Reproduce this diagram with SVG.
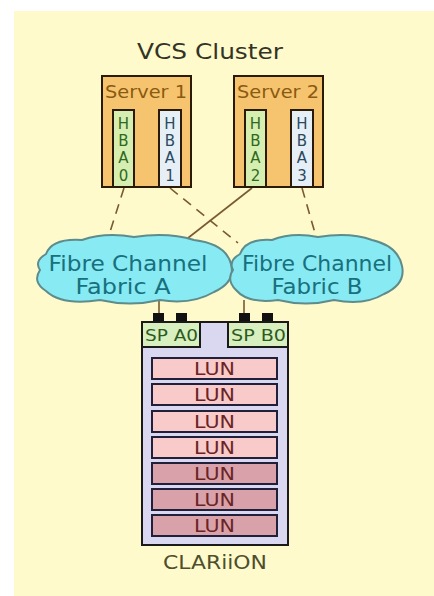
<svg xmlns="http://www.w3.org/2000/svg" width="434" height="596" viewBox="0 0 434 596">
<style>
.srv{fill:#F6C46E;stroke:#2a1a08;stroke-width:2}
.srvt{font-family:"DejaVu Sans",sans-serif;font-size:17px;fill:#8A5A12;text-anchor:middle}
.hbag{fill:#D6EFB0;stroke:#2a1a08;stroke-width:2}
.hbab{fill:#E6EEF6;stroke:#2a1a08;stroke-width:2}
.hbt{font-family:"DejaVu Sans",sans-serif;font-size:15px;text-anchor:middle}
.cloud{fill:#88EAF2;stroke:#5E8C8C;stroke-width:2}
.ct{font-family:"DejaVu Sans",sans-serif;font-size:21px;fill:#17707E;text-anchor:middle}
.conn{fill:none;stroke:#7A5A30;stroke-width:1.6}
.dash{stroke-dasharray:10 7}
.lun1{fill:#F8CACA;stroke:#20203A;stroke-width:2}
.lun2{fill:#D9A2AA;stroke:#20203A;stroke-width:2}
.lt{font-family:"DejaVu Sans",sans-serif;font-size:18px;fill:#6A2424;text-anchor:middle}
.sp{fill:#D8F0C0;stroke:#1a1a1a;stroke-width:2}
.spt{font-family:"DejaVu Sans",sans-serif;font-size:16px;fill:#2E5A1E}
</style>
<rect x="0" y="0" width="434" height="596" fill="#FFFFFF"/>
<rect x="14" y="11" width="420" height="585" fill="#FEFACB"/>
<text x="210" y="59" font-family="DejaVu Sans,sans-serif" font-size="22" fill="#333326" text-anchor="middle" textLength="146" lengthAdjust="spacingAndGlyphs">VCS Cluster</text>

<g id="connectors">
<line class="conn dash" x1="124" y1="188" x2="108" y2="238"/>
<line class="conn dash" x1="170" y1="188" x2="238" y2="243"/>
<line class="conn" x1="252" y1="188" x2="188" y2="238"/>
<line class="conn dash" x1="302" y1="188" x2="315" y2="233"/>
<line class="conn" x1="159" y1="300" x2="159" y2="315"/>
<line class="conn" x1="244" y1="300" x2="244" y2="315"/>
</g>

<g id="server1">
<rect class="srv" x="102" y="76" width="89" height="111"/>
<text class="srvt" x="146" y="98" textLength="82" lengthAdjust="spacingAndGlyphs">Server 1</text>
</g>
<g id="hba0">
<rect class="hbag" x="113" y="110" width="21" height="77"/>
<g class="hbt" fill="#2E6A1E"><text x="123.5" y="129">H</text><text x="123.5" y="146">B</text><text x="123.5" y="163">A</text><text x="123.5" y="181">0</text></g>
</g>
<g id="hba1">
<rect class="hbab" x="159" y="110" width="22" height="77"/>
<g class="hbt" fill="#2A4A5E"><text x="170" y="129">H</text><text x="170" y="146">B</text><text x="170" y="163">A</text><text x="170" y="181">1</text></g>
</g>
<g id="server2">
<rect class="srv" x="234" y="76" width="89" height="111"/>
<text class="srvt" x="278" y="98" textLength="82" lengthAdjust="spacingAndGlyphs">Server 2</text>
</g>
<g id="hba2">
<rect class="hbag" x="245" y="110" width="21" height="77"/>
<g class="hbt" fill="#2E6A1E"><text x="255.5" y="129">H</text><text x="255.5" y="146">B</text><text x="255.5" y="163">A</text><text x="255.5" y="181">2</text></g>
</g>
<g id="hba3">
<rect class="hbab" x="291" y="110" width="22" height="77"/>
<g class="hbt" fill="#2A4A5E"><text x="302" y="129">H</text><text x="302" y="146">B</text><text x="302" y="163">A</text><text x="302" y="181">3</text></g>
</g>

<g id="fabricA">
<path class="cloud" d="M46,254 Q52,238 82,240 Q105,232 134,237 Q168,232 194,240 Q226,244 231,264 Q236,282 214,292 Q192,305 160,300 Q130,307 100,300 Q62,306 46,291 Q32,282 40,270 Q34,261 46,254 Z"/>
<text class="ct" x="128" y="271" textLength="159" lengthAdjust="spacingAndGlyphs">Fibre Channel</text>
<text class="ct" x="123" y="294" textLength="95" lengthAdjust="spacingAndGlyphs">Fabric A</text>
</g>
<g id="fabricB">
<path class="cloud" d="M240,254 Q246,238 272,240 Q292,232 318,237 Q350,232 372,240 Q398,246 402,266 Q406,284 384,294 Q364,306 334,300 Q306,307 278,300 Q248,304 236,290 Q226,280 233,270 Q228,261 240,254 Z"/>
<text class="ct" x="317" y="271" textLength="150" lengthAdjust="spacingAndGlyphs">Fibre Channel</text>
<text class="ct" x="317" y="294" textLength="91" lengthAdjust="spacingAndGlyphs">Fabric B</text>
</g>

<g id="clariion">
<rect x="142" y="322" width="146" height="223" fill="#D9D8F0" stroke="#1a1a1a" stroke-width="2"/>
<rect x="153" y="313" width="11" height="9" fill="#111"/>
<rect x="176" y="313" width="11" height="9" fill="#111"/>
<rect x="239" y="313" width="11" height="9" fill="#111"/>
<rect x="262" y="313" width="11" height="9" fill="#111"/>
<text x="215" y="569" font-family="DejaVu Sans,sans-serif" font-size="20" fill="#4E4E2C" text-anchor="middle" textLength="104" lengthAdjust="spacingAndGlyphs">CLARiiON</text>
</g>
<g id="spA0">
<rect class="sp" x="142" y="322" width="58" height="25"/>
<text class="spt" x="145" y="341" textLength="53" lengthAdjust="spacingAndGlyphs">SP A0</text>
</g>
<g id="spB0">
<rect class="sp" x="228" y="322" width="60" height="25"/>
<text class="spt" x="231" y="341" textLength="55" lengthAdjust="spacingAndGlyphs">SP B0</text>
</g>
<g id="lun1"><rect class="lun1" x="152" y="358" width="125" height="21"/><text class="lt" x="214.5" y="375" textLength="41" lengthAdjust="spacingAndGlyphs">LUN</text></g>
<g id="lun2"><rect class="lun1" x="152" y="384" width="125" height="21"/><text class="lt" x="214.5" y="401" textLength="41" lengthAdjust="spacingAndGlyphs">LUN</text></g>
<g id="lun3"><rect class="lun1" x="152" y="411" width="125" height="21"/><text class="lt" x="214.5" y="428" textLength="41" lengthAdjust="spacingAndGlyphs">LUN</text></g>
<g id="lun4"><rect class="lun1" x="152" y="437" width="125" height="21"/><text class="lt" x="214.5" y="454" textLength="41" lengthAdjust="spacingAndGlyphs">LUN</text></g>
<g id="lun5"><rect class="lun2" x="152" y="463" width="125" height="21"/><text class="lt" x="214.5" y="480" textLength="41" lengthAdjust="spacingAndGlyphs">LUN</text></g>
<g id="lun6"><rect class="lun2" x="152" y="489" width="125" height="21"/><text class="lt" x="214.5" y="506" textLength="41" lengthAdjust="spacingAndGlyphs">LUN</text></g>
<g id="lun7"><rect class="lun2" x="152" y="515" width="125" height="21"/><text class="lt" x="214.5" y="532" textLength="41" lengthAdjust="spacingAndGlyphs">LUN</text></g>
</svg>
